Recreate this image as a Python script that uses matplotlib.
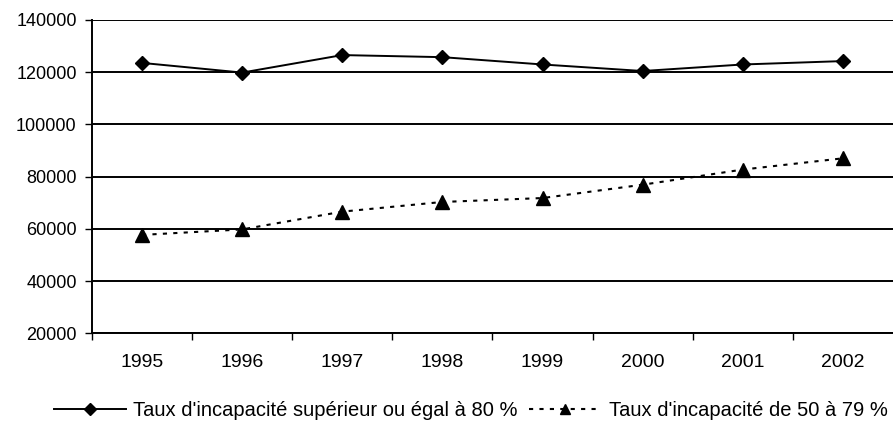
import matplotlib
matplotlib.use("Agg")
import matplotlib.pyplot as plt
import numpy as np

plt.rcParams['font.family'] = ['Liberation Sans', 'DejaVu Sans']

years = ["1995", "1996", "1997", "1998", "1999", "2000", "2001", "2002"]
taux_80 = [123500, 119800, 126500, 125700, 122900, 120400, 122900, 124200]
taux_50_79 = [57700, 59800, 66600, 70300, 71800, 76900, 82700, 87000]
yticks = [20000, 40000, 60000, 80000, 100000, 120000, 140000]

label_80 = "Taux d'incapacité supérieur ou égal à 80 %"
label_50 = "Taux d'incapacité de 50 à 79 %"

fig = plt.figure(figsize=(8.93, 4.21), dpi=100)
ax = fig.add_axes([0.103, 0.208, 0.897, 0.745])

x = np.arange(len(years))
ax.plot(x, taux_80, color="black", lw=1.4, marker="D", ms=7.5,
        label=label_80, zorder=3)
ax.plot(x, taux_50_79, color="black", lw=1.5, ls=(0, (2, 3)), marker="^",
        ms=9.5, label=label_50, zorder=3)

# gridlines at each y tick, Excel-like
for v in yticks:
    ax.axhline(v, color="black", lw=1.4, zorder=1)

ax.set_ylim(20000, 140000)
ax.set_yticks(yticks)
ax.set_yticklabels([str(v) for v in yticks])
ax.set_xlim(-0.5, len(years) - 0.5)
ax.set_xticks(x)
ax.set_xticklabels(years)
ax.set_xticks(np.arange(-0.5, len(years) - 0.5), minor=True)
ax.tick_params(axis="x", which="major", length=0, pad=15, labelsize=14)
ax.tick_params(axis="x", which="minor", length=5, direction="out", width=1)
ax.tick_params(axis="y", length=5, width=1, labelsize=13, pad=6)

for s in ["top", "right"]:
    ax.spines[s].set_visible(False)
for s in ["left", "bottom"]:
    ax.spines[s].set_linewidth(1.4)
    ax.spines[s].set_color("black")

fig.legend(loc="center", bbox_to_anchor=(0.527, 0.025), ncol=2, frameon=False,
           fontsize=14.5, handlelength=3.6, handletextpad=0.35,
           columnspacing=0.55, markerscale=0.75, borderpad=0)

fig.savefig("out.png", dpi=100)
